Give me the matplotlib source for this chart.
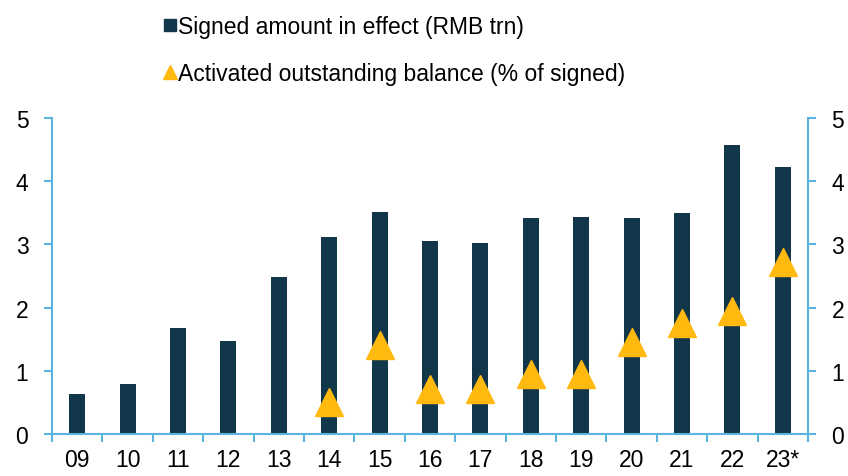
import matplotlib
matplotlib.use('Agg')
import matplotlib.pyplot as plt
from matplotlib.lines import Line2D
import numpy as np

plt.rcParams['font.family'] = ['Liberation Sans', 'DejaVu Sans']

years = ['09', '10', '11', '12', '13', '14', '15', '16', '17', '18', '19', '20', '21', '22', '23*']
signed = [0.64, 0.79, 1.67, 1.47, 2.48, 3.11, 3.51, 3.05, 3.02, 3.42, 3.43, 3.42, 3.50, 4.57, 4.22]
# activated balance only reported from 2014
act_years = ['14', '15', '16', '17', '18', '19', '20', '21', '22', '23*']
activated = [0.50, 1.41, 0.72, 0.72, 0.95, 0.95, 1.46, 1.75, 1.94, 2.72]

navy = '#12364A'
gold = '#FFB90F'
axcol = '#5BB4E0'
fs = 16.5

fig = plt.figure(figsize=(8.48, 4.77), dpi=100)
ax = fig.add_axes([0.0613, 0.088, 0.8915, 0.6625])
ax2 = ax.twinx()

x = np.arange(len(years))
ax.bar(x, signed, width=0.32, color=navy, zorder=2)
ax_idx = [years.index(y) for y in act_years]
ax2.plot(ax_idx, activated, linestyle='none', marker='^', ms=19.5, color=gold, zorder=3)

for a in (ax, ax2):
    a.set_ylim(0, 5)
    a.set_yticks(range(6))
    a.set_xlim(-0.5, len(years) - 0.5)
    for s in a.spines.values():
        s.set_visible(False)
ax.spines['left'].set_visible(True)
ax.spines['bottom'].set_visible(True)
ax2.spines['right'].set_visible(True)
for s in (ax.spines['left'], ax.spines['bottom'], ax2.spines['right']):
    s.set_color(axcol)
    s.set_linewidth(1.5)

ax.set_zorder(ax2.get_zorder() - 1)
ax.patch.set_visible(False)

ax.set_xticks(x)
ax.set_xticklabels(years)
ax.set_xticks(np.arange(-0.5, len(years)), minor=True)
ax.tick_params(axis='x', which='major', length=0, pad=10, labelsize=fs)
ax.tick_params(axis='x', which='minor', length=6, width=1.5, color=axcol)
ax.tick_params(axis='y', length=6, width=1.5, color=axcol, pad=11, labelsize=fs)
ax2.tick_params(axis='y', length=6, width=1.5, color=axcol, pad=11, labelsize=fs)

handles = [Line2D([], [], linestyle='none', marker='s', ms=9, color=navy),
           Line2D([], [], linestyle='none', marker='^', ms=10, color=gold)]
labels = ['Signed amount in effect (RMB trn)', 'Activated outstanding balance (% of signed)']
fig.legend(handles, labels, loc='upper left', bbox_to_anchor=(0.181, 0.985), frameon=False,
           fontsize=fs, handlelength=0.6, handletextpad=0.05, labelspacing=1.05, borderaxespad=0)

fig.savefig('out.png', dpi=100)
